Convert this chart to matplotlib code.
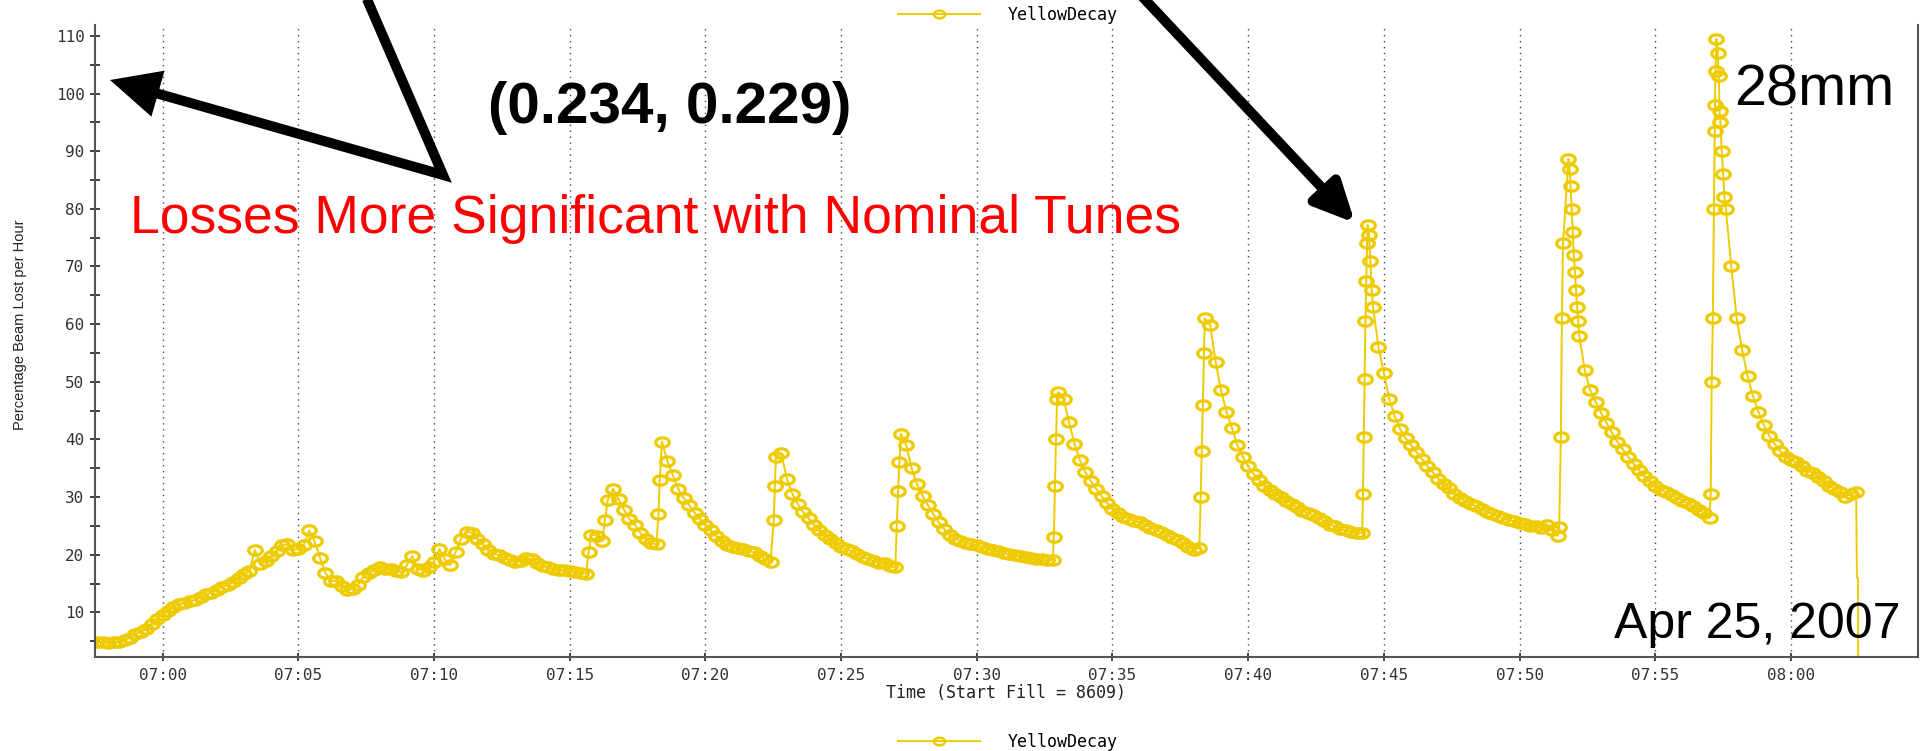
import matplotlib
matplotlib.use("Agg")
import matplotlib.pyplot as plt
import matplotlib.dates as mdates
import matplotlib.ticker as ticker
from matplotlib.path import Path
from matplotlib.patches import FancyArrowPatch
from matplotlib.transforms import IdentityTransform
import numpy as np
from datetime import datetime, timedelta

# logger samples every 12 s from 06:57:36 (minutes after 07:00), one row per 5 minutes
sample_min = np.round(np.arange(-2.4, 62.41, 0.2), 2)
sample_loss = [
    4.8, 4.9, 4.7, 4.8, 4.9, 5.2, 5.6, 6.2, 6.6, 7.1, 8.0, 8.9, 9.6, 10.3, 11.0, 11.4, 11.6, 12.0, 12.1, 12.6, 13.2, 13.4, 13.9, 14.4, 14.7,
    15.3, 15.9, 16.6, 17.2, 20.8, 18.4, 18.9, 19.8, 20.6, 21.6, 21.8, 20.8, 21.0, 21.6, 24.2, 22.3, 19.5, 16.8, 15.5, 15.4, 14.6, 13.8, 14.0, 14.8, 16.2,
    16.8, 17.4, 17.9, 17.6, 17.5, 17.2, 17.0, 18.2, 19.8, 17.6, 17.2, 17.8, 18.8, 21.0, 19.2, 18.2, 20.5, 22.8, 24.0, 23.8, 22.8, 21.8, 20.8, 20.2, 19.9,
    19.4, 19.0, 18.7, 18.9, 19.4, 19.2, 18.6, 18.0, 17.8, 17.5, 17.3, 17.4, 17.2, 17.0, 16.8, 16.7, 23.5, 23.3, 22.4, 29.5, 31.4, 29.6, 27.8, 26.2, 25.2,
    23.8, 22.8, 22.0, 21.8, 39.6, 36.2, 33.8, 31.4, 29.8, 28.6, 27.3, 26.2, 25.2, 24.2, 23.3, 22.3, 21.6, 21.4, 21.2, 21.0, 20.7, 20.4, 19.8, 19.2, 18.7,
    37.0, 37.6, 33.2, 30.6, 28.8, 27.4, 26.3, 25.2, 24.3, 23.5, 22.7, 22.0, 21.4, 20.9, 20.6, 20.1, 19.6, 19.2, 18.9, 18.6, 18.5, 18.0, 17.8, 41.0, 39.0,
    35.0, 32.2, 30.2, 28.6, 27.0, 25.6, 24.4, 23.5, 22.8, 22.3, 22.0, 21.8, 21.6, 21.3, 21.0, 20.8, 20.6, 20.3, 20.1, 19.9, 19.8, 19.6, 19.4, 19.3, 19.2,
    19.0, 19.1, 48.2, 47.0, 43.0, 39.2, 36.4, 34.3, 32.8, 31.4, 30.1, 29.0, 28.0, 27.2, 26.6, 26.2, 25.9, 25.6, 25.2, 24.7, 24.3, 23.9, 23.4, 22.9, 22.5,
    22.0, 21.4, 20.8, 21.2, 61.0, 59.8, 53.5, 48.5, 44.8, 42.0, 39.0, 37.0, 35.3, 34.0, 33.0, 32.0, 31.2, 30.6, 30.0, 29.4, 28.8, 28.2, 27.6, 27.2, 26.8,
    26.4, 25.8, 25.2, 24.9, 24.5, 24.2, 24.0, 23.7, 23.8, 77.2, 63.0, 56.0, 51.5, 47.0, 44.0, 41.8, 40.2, 39.0, 37.8, 36.6, 35.4, 34.3, 33.2, 32.3, 31.5,
    30.6, 29.9, 29.3, 28.8, 28.4, 27.9, 27.4, 27.1, 26.7, 26.3, 26.0, 25.8, 25.5, 25.3, 25.0, 24.9, 24.6, 25.2, 24.2, 23.3, 74.0, 88.7, 72.0, 58.0, 52.0,
    48.6, 46.5, 44.6, 42.9, 41.2, 39.6, 38.3, 37.0, 35.8, 34.7, 33.6, 32.7, 32.0, 31.3, 30.8, 30.3, 29.8, 29.4, 28.9, 28.4, 27.8, 27.2, 26.4, 98.0, 95.0,
    80.0, 70.0, 61.0, 55.5, 51.0, 47.5, 44.8, 42.5, 40.6, 39.2, 38.0, 37.0, 36.4, 36.0, 35.3, 34.6, 34.2, 33.5, 32.8, 32.0, 31.4, 30.8, 30.0, 30.6, 30.8,
]

# extra readings logged in bursts while the loss jumps after each step
burst_min = [15.7, 16.3, 18.27, 18.32, 22.52, 22.56, 27.05, 27.1, 27.15, 32.84, 32.88, 32.92, 32.96,
             38.25, 38.29, 38.33, 38.37, 44.23, 44.26, 44.29, 44.32, 44.35, 44.38, 44.45, 44.5, 44.55,
             51.46, 51.52, 51.56, 51.84, 51.88, 51.92, 51.96, 52.04, 52.08, 52.12, 52.16,
             57.04, 57.08, 57.12, 57.16, 57.19, 57.22, 57.25, 57.3, 57.34, 57.37, 57.45, 57.5, 57.55]
burst_loss = [20.5, 26.0, 27.0, 33.0, 26.0, 32.0, 25.0, 31.0, 36.0, 23.0, 32.0, 40.0, 47.0,
              30.0, 38.0, 46.0, 55.0, 30.5, 40.5, 50.5, 60.5, 67.5, 74.0, 75.5, 71.0, 66.0,
              24.8, 40.5, 61.0, 87.0, 84.0, 80.0, 76.0, 69.0, 66.0, 63.0, 60.5,
              30.5, 50.0, 61.0, 80.0, 93.5, 104.0, 109.5, 107.0, 103.0, 97.0, 90.0, 86.0, 82.0]

# beam dump at the end of the fill
dump_min = [62.4, 62.43, 62.47, 62.48]
dump_loss = [30.8, 16.0, 16.0, -5.0]

start = datetime(2007, 4, 25, 7, 0)
mins = np.concatenate([sample_min, burst_min])
vals = np.concatenate([sample_loss, burst_loss])
order = np.argsort(mins, kind='stable')
times = [start + timedelta(minutes=float(m)) for m in mins[order]]
loss = vals[order]
dump_times = [start + timedelta(minutes=m) for m in dump_min]

yellow = '#EECB00'
mono = 'DejaVu Sans Mono'
arial = 'Liberation Sans'

# slightly wide open ellipse, like the logger's circle marker
circ = Path.unit_circle()
ellipse = Path(circ.vertices * np.array([1.45, 1.0]), circ.codes)

fig = plt.figure(figsize=(19.22, 7.51), dpi=100)
ax = fig.add_axes([95/1922, 1 - 656.7/751, (1918 - 95)/1922, (656.7 - 25)/751])

ax.plot(dump_times, dump_loss, color=yellow, lw=1.4)
ax.plot(times, loss, color=yellow, lw=1.4, marker=ellipse, ms=9.8, mfc='none', mec=yellow, mew=2.3,
        label='YellowDecay')

ax.set_xlim(start + timedelta(minutes=-2.49), start + timedelta(minutes=64.68))
ax.set_ylim(2.3, 111.9)

ax.xaxis.set_major_locator(mdates.MinuteLocator(byminute=range(0, 60, 5)))
ax.xaxis.set_major_formatter(mdates.DateFormatter('%H:%M'))
ax.yaxis.set_major_locator(ticker.FixedLocator(np.arange(10, 111, 10)))
ax.yaxis.set_minor_locator(ticker.FixedLocator(np.arange(5, 111, 10)))

ax.grid(axis='x', which='major', color='#444444', lw=1.0, linestyle=(0, (1, 3.3)))
ax.tick_params(axis='both', which='both', direction='inout', color='#333333', width=1.3,
               labelcolor='#333333', labelsize=11.5)
ax.tick_params(axis='y', which='both', length=7, pad=4)
ax.tick_params(axis='x', which='major', length=6, pad=5)
for lab in ax.get_xticklabels() + ax.get_yticklabels():
    lab.set_family(mono)

ax.spines['top'].set_visible(False)
for s in ['left', 'bottom', 'right']:
    ax.spines[s].set_color('#555555')
    ax.spines[s].set_linewidth(1.5)

ax.set_xlabel('Time (Start Fill = 8609)', family=mono, fontsize=12, color='#222222', labelpad=1)
ax.set_ylabel('Percentage Beam Lost per Hour', family=arial, fontsize=10.5, color='#222222', va='center')
ax.yaxis.set_label_coords(-0.041, 0.525)

# legend appears above and below the plot
for ly in [0.980, 0.012]:
    leg = fig.legend(handles=ax.get_lines()[1:], loc='center left', bbox_to_anchor=(898/1922, ly),
                     frameon=False, borderpad=0, borderaxespad=0, numpoints=1, handlelength=4.9,
                     handletextpad=1.7, prop={'family': mono, 'size': 12})
    for h in leg.legend_handles:
        h.set_markersize(8)
        h.set_markeredgewidth(1.8)

# annotations
fig.text(488/1922, 1 - 123/751, '(0.234, 0.229)', family=arial, weight='bold', fontsize=42,
         va='baseline', ha='left')
fig.text(130/1922, 1 - 233/751, 'Losses More Significant with Nominal Tunes', family=arial,
         fontsize=38.5, color='#FF0000', va='baseline', ha='left')
fig.text(1734/1922, 1 - 106/751, '28mm', family=arial, fontsize=41.5, va='baseline', ha='left')
fig.text(1614/1922, 1 - 638/751, 'Apr 25, 2007', family=arial, fontsize=36, va='baseline', ha='left')

H = 751
bent = Path([(363, H + 10), (443, H - 175), (110, H - 80)])
fig.add_artist(FancyArrowPatch(path=bent, arrowstyle='-|>,head_length=24,head_width=11.5',
                               transform=IdentityTransform(), color='black', lw=7.2,
                               joinstyle='miter', capstyle='butt'))
fig.add_artist(FancyArrowPatch((1136, H + 10), (1355, H - 223), arrowstyle='-|>,head_length=24,head_width=11.5',
                               transform=IdentityTransform(), color='black', lw=7.2,
                               shrinkA=0, shrinkB=0))

fig.savefig('out.png', dpi=100)
